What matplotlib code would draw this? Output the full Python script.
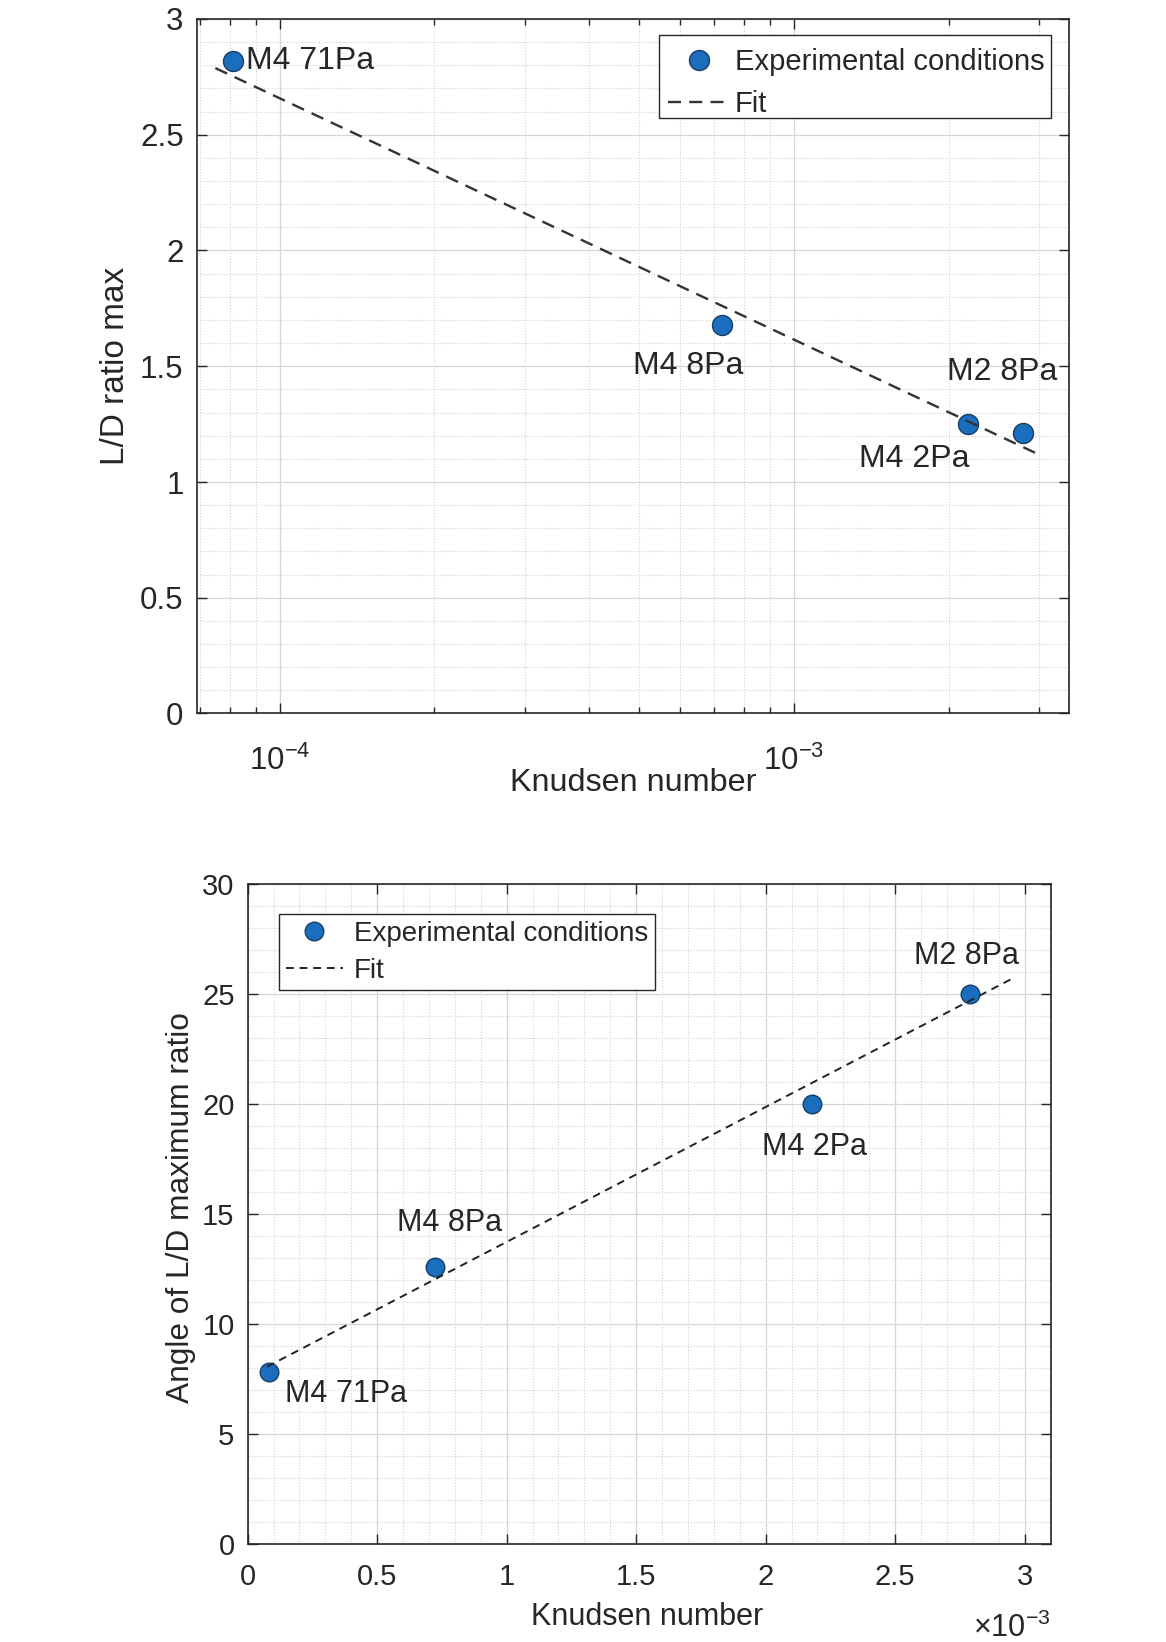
import numpy as np
import matplotlib
matplotlib.use("Agg")
import matplotlib.pyplot as plt
from matplotlib.patches import Rectangle
from matplotlib.ticker import MultipleLocator, LogLocator, FuncFormatter, NullFormatter

plt.rcParams['font.family'] = ['Liberation Sans', 'DejaVu Sans']
plt.rcParams['mathtext.fontset'] = 'custom'
plt.rcParams['mathtext.rm'] = 'Liberation Sans'
plt.rcParams['mathtext.it'] = 'Liberation Sans:italic'
plt.rcParams['mathtext.bf'] = 'Liberation Sans:bold'

# ---- data -------------------------------------------------------------
conditions = ["M4 71Pa", "M4 8Pa", "M4 2Pa", "M2 8Pa"]
knudsen = [8.1e-5, 7.25e-4, 2.18e-3, 2.79e-3]
ld_ratio_max = [2.82, 1.68, 1.25, 1.21]
angle_ld_max = [7.8, 12.6, 20.0, 25.0]

fit_kn_range = [7.5e-5, 2.96e-3]
ld_fit_coef = [-1.513, -1.0427]     # L/D = c0 + c1*log10(Kn)
angle_fit_coef = [7.60, 6131.0]     # angle = c0 + c1*Kn

# label offsets (pixels) and alignment per condition
ld_label_style = [((13, 0), 'left'), ((21, -41), 'right'),
                  ((1, -35), 'right'), ((-21, 61), 'center')]
angle_label_style = [((16, -22), 'left'), ((14, 44), 'center'),
                     ((2, -43), 'center'), ((-4, 38), 'center')]

# ---- styling ------------------------------------------------------------
DARK = '#262626'
FACE = '#1a6ebd'
EDGE = '#163e66'
W, H = 1166, 1642

fig = plt.figure(figsize=(W / 100, H / 100), dpi=100)


def px_axes(left, top, right, bottom):
    return fig.add_axes([left / W, 1 - bottom / H, (right - left) / W, (bottom - top) / H])


def style_axes(ax, fs):
    ax.set_axisbelow(True)
    ax.grid(which='major', color='#d6d6d6', lw=0.9, ls='-')
    ax.grid(which='minor', color='#d2d2d2', lw=0.8, ls=(0, (1, 1.6)))
    for s in ax.spines.values():
        s.set_color(DARK)
        s.set_linewidth(1.2)
    ax.tick_params(which='both', direction='in', top=True, right=True,
                   color=DARK, labelcolor=DARK, labelsize=fs, width=1.0)
    ax.tick_params(which='major', length=7)


fmt_g = FuncFormatter(lambda v, p: f"{round(v, 6):g}")

# ---- top: L/D ratio max vs Knudsen number (log x) -------------------------
ax1 = px_axes(196.7, 19, 1069.3, 713.5)
style_axes(ax1, 22.5)
ax1.set_xscale('log')
ax1.set_xlim(6.9e-5, 3.43e-3)
ax1.set_ylim(0, 3)
ax1.yaxis.set_major_locator(MultipleLocator(0.5))
ax1.yaxis.set_minor_locator(MultipleLocator(0.1))
ax1.yaxis.set_major_formatter(fmt_g)
ax1.xaxis.set_major_locator(LogLocator(base=10))
ax1.xaxis.set_minor_locator(LogLocator(base=10, subs=np.arange(2, 10)))
ax1.xaxis.set_minor_formatter(NullFormatter())
ax1.tick_params(axis='y', which='minor', length=0)
ax1.tick_params(axis='x', which='minor', length=4)
ax1.tick_params(axis='x', which='major', pad=23)
ax1.tick_params(axis='y', which='major', pad=9.5)

ax1.plot(knudsen, ld_ratio_max, ls='none', marker='o', ms=14.4,
         mfc=FACE, mec=EDGE, mew=1.0, label='Experimental conditions', zorder=3)
kfit = np.logspace(np.log10(fit_kn_range[0]), np.log10(fit_kn_range[1]), 200)
ax1.plot(kfit, ld_fit_coef[0] + ld_fit_coef[1] * np.log10(kfit), color='#333333',
         lw=1.7, dashes=(5.5, 3.5), label='Fit', zorder=4)

for name, kx, ly, ((dx, dy), ha) in zip(conditions, knudsen, ld_ratio_max, ld_label_style):
    ax1.annotate(name, xy=(kx, ly), xytext=(dx, dy), textcoords='offset pixels',
                 ha=ha, va='center', fontsize=23, color=DARK, zorder=5)

ax1.set_xlabel('Knudsen number', fontsize=23.3, color=DARK)
ax1.xaxis.set_label_coords(0.5, -(782.6 - 713.5) / (713.5 - 19))
ax1.xaxis.label.set_va('center')
ax1.set_ylabel('L/D ratio max', fontsize=24, color=DARK)
ax1.yaxis.set_label_coords((116 - 196.7) / (1069.3 - 196.7), 0.5)
ax1.yaxis.label.set_va('center')

# legend box drawn separately so the entries sit a little lower inside it
ax1.add_patch(Rectangle((659.5 / W, 1 - 118 / H), (1050.5 - 659.5) / W, 83 / H,
                        transform=fig.transFigure, facecolor='white',
                        edgecolor=DARK, lw=1.0, zorder=4.6, clip_on=False))
leg1 = ax1.legend(loc='upper right', bbox_to_anchor=(1051 / W, 1 - 41.3 / H),
                  bbox_transform=fig.transFigure, fontsize=21, handlelength=2.15,
                  handletextpad=0.15, borderpad=0.23, labelspacing=0.48,
                  frameon=False, borderaxespad=0)
leg1.set_zorder(5)
for t in leg1.get_texts():
    t.set_color(DARK)

# ---- bottom: angle of L/D max vs Knudsen number (linear x) --------------
ax2 = px_axes(247.7, 884, 1050.5, 1544)
style_axes(ax2, 21)
ax2.set_xlim(0, 3.1e-3)
ax2.set_ylim(0, 30)
ax2.xaxis.set_major_locator(MultipleLocator(0.5e-3))
ax2.xaxis.set_minor_locator(MultipleLocator(1e-4))
ax2.xaxis.set_major_formatter(FuncFormatter(lambda v, p: f"{round(v * 1e3, 6):g}"))
ax2.yaxis.set_major_locator(MultipleLocator(5))
ax2.yaxis.set_minor_locator(MultipleLocator(1))
ax2.yaxis.set_major_formatter(fmt_g)
ax2.tick_params(which='minor', length=0)
ax2.tick_params(axis='x', which='major', pad=14)
ax2.tick_params(axis='y', which='major', pad=9.5)

ax2.plot(knudsen, angle_ld_max, ls='none', marker='o', ms=13.4,
         mfc=FACE, mec=EDGE, mew=1.0, label='Experimental conditions', zorder=3)
kfit2 = np.linspace(fit_kn_range[0], fit_kn_range[1], 50)
ax2.plot(kfit2, angle_fit_coef[0] + angle_fit_coef[1] * kfit2, color='#222222',
         lw=1.4, dashes=(4, 3), label='Fit', zorder=4)

for name, kx, ay, ((dx, dy), ha) in zip(conditions, knudsen, angle_ld_max, angle_label_style):
    ax2.annotate(name, xy=(kx, ay), xytext=(dx, dy), textcoords='offset pixels',
                 ha=ha, va='center', fontsize=22, color=DARK, zorder=5)

ax2.text(1.0, -(1636.7 - 1544) / 660, r'$\times10^{-3}$', transform=ax2.transAxes,
         ha='right', va='baseline', fontsize=22, color=DARK)

ax2.set_xlabel('Knudsen number', fontsize=22, color=DARK)
ax2.xaxis.set_label_coords((647.5 - 247.7) / (1050.5 - 247.7), -(1616.5 - 1544) / 660)
ax2.xaxis.label.set_va('center')
ax2.set_ylabel('Angle of L/D maximum ratio', fontsize=22.8, color=DARK)
ax2.yaxis.set_label_coords((181 - 247.7) / (1050.5 - 247.7), (1544 - 1207.5) / 660)
ax2.yaxis.label.set_va('center')

leg2 = ax2.legend(loc='upper left', bbox_to_anchor=(279 / W, 1 - 914 / H),
                  bbox_transform=fig.transFigure, fontsize=20, handlelength=2.05,
                  handletextpad=0.4, borderpad=0.24, labelspacing=0.39,
                  fancybox=False, edgecolor=DARK, framealpha=1, borderaxespad=0)
leg2.get_frame().set_linewidth(1.0)
for t in leg2.get_texts():
    t.set_color(DARK)

fig.savefig('out.png', dpi=100, facecolor='white')
